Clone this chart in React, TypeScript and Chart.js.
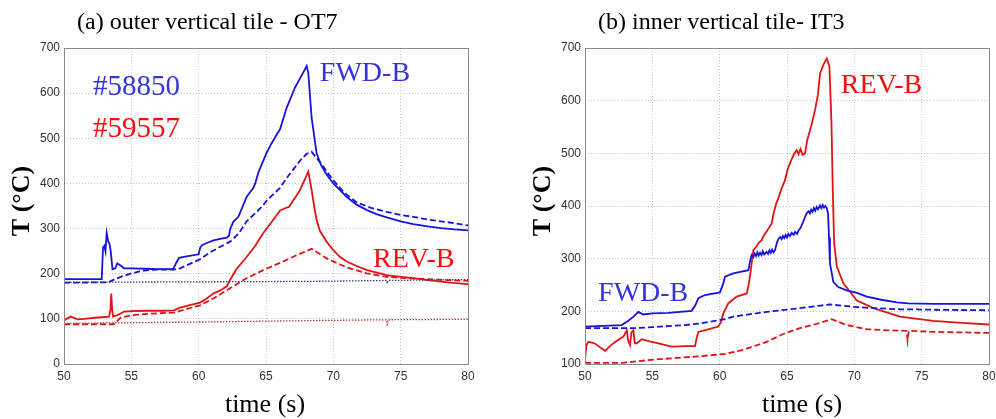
import { useEffect, useRef } from 'react';
import { Chart, registerables } from 'chart.js';

Chart.register(...registerables);

// ---------- Panel (a): outer vertical tile OT7 ----------
const aFwdSolidT = [50, 52.8, 52.9, 53.0, 53.08, 53.17, 53.28, 53.38, 53.47, 53.6, 53.8, 53.96, 54.2, 54.45, 55, 56, 57, 58.1, 58.3, 58.54, 59, 60.0, 60.12, 60.25, 60.6, 61.1, 61.6, 62.08, 62.25, 62.33, 62.57, 62.95, 63.56, 63.8, 64.06, 64.2, 64.43, 65.05, 65.4, 65.79, 66.04, 66.54, 67.15, 67.77, 68.02, 68.14, 68.39, 68.76, 69.1, 69.5, 70.0, 70.5, 71.0, 71.73, 72.5, 73.2, 73.96, 75, 75.94, 77, 78, 79, 80];
const aFwdSolidV = [188, 188, 258, 262, 250, 290, 272, 266, 250, 210, 212, 223, 218, 212, 212, 211, 210, 210, 222, 235, 238, 243, 258, 263, 268, 274, 277, 280, 284, 298, 315, 326, 370, 380, 390, 400, 424, 468, 488, 508, 520, 568, 612, 646, 660, 645, 545, 466, 440, 420, 400, 385, 370, 353, 341, 332, 325, 316, 310, 305, 301, 298, 296];

const aFwdDashT = [50, 53.3, 53.7, 54.3, 54.95, 55.6, 56.19, 57, 58.17, 58.61, 59.65, 60.1, 60.89, 61.5, 62.33, 63.0, 63.56, 64.2, 64.8, 65.05, 66.04, 66.54, 67.0, 67.52, 68.0, 68.39, 68.8, 69.26, 70.0, 70.8, 71.73, 72.8, 73.96, 75, 75.94, 77, 78.5, 80];
const aFwdDashV = [180, 181, 187, 194, 200, 205, 208, 209, 209, 212, 226, 232, 248, 258, 271, 290, 316, 334, 352, 362, 390, 412, 430, 450, 465, 470, 455, 437, 407, 380, 358, 346, 337, 330, 326, 320, 314, 307];

const aFwdDotT = [50, 60, 68, 73.95, 74.0, 74.05, 80];
const aFwdDotV = [181, 182, 183, 185, 178, 185, 187];

const aRevSolidT = [50, 50.5, 51.0, 51.5, 52.5, 53.34, 53.45, 53.51, 53.58, 53.64, 53.96, 54.45, 55, 56.19, 57.5, 58.17, 58.61, 59.41, 60.1, 60.6, 61.09, 61.6, 62.08, 62.33, 62.8, 63.56, 64.2, 64.8, 65.5, 66.04, 66.41, 66.7, 67.03, 67.52, 68.14, 68.39, 68.6, 68.76, 69.0, 69.5, 70.0, 70.5, 71.0, 71.73, 72.5, 73.96, 75, 75.94, 77, 78.5, 80];
const aRevSolidV = [97, 105, 99, 100, 103, 105, 120, 156, 120, 105, 108, 116, 117, 118, 118, 119, 125, 131, 136, 145, 156, 163, 172, 186, 210, 237, 262, 290, 318, 340, 345, 348, 363, 385, 426, 385, 345, 319, 295, 271, 252, 237, 227, 217, 208, 197, 193, 190, 186, 181, 177];

const aRevDashT = [50, 53.7, 54.2, 55, 56.19, 58.17, 60.1, 61.09, 62.33, 63.56, 64.8, 66.04, 67.28, 68.39, 69.5, 70.99, 72.48, 73.96, 75.5, 77, 78.5, 80];
const aRevDashV = [88, 88, 103, 108, 111, 114, 130, 145, 168, 190, 208, 224, 241, 255, 234, 214, 201, 193, 190, 188, 186, 184];

const aRevDotT = [50, 60, 68, 73.95, 74.0, 74.05, 80];
const aRevDotV = [90, 93, 96, 98, 84, 98, 99];

// ---------- Panel (b): inner vertical tile IT3 ----------
const bFwdSolidT = [50, 52.72, 53.22, 53.6, 53.96, 54.33, 55, 56.19, 57.92, 58.2, 58.42, 58.91, 60.02, 60.27, 60.4, 61.01, 62.13, 62.3, 62.38, 62.5, 62.6, 62.7, 62.8, 62.9, 63.0, 63.1, 63.2, 63.3, 63.49, 63.6, 63.7, 63.8, 63.9, 64.0, 64.11, 64.25, 64.35, 64.5, 64.6, 64.7, 64.8, 64.9, 65.0, 65.1, 65.22, 65.35, 65.5, 65.6, 65.75, 65.84, 66.0, 66.2, 66.35, 66.46, 66.6, 66.7, 66.8, 66.9, 67.0, 67.1, 67.2, 67.3, 67.45, 67.55, 67.65, 67.75, 67.85, 67.95, 68.05, 68.12, 68.19, 68.44, 68.8, 69.43, 70.2, 70.92, 72, 73.15, 74, 76, 78, 80];
const bFwdSolidV = [171, 174, 182, 190, 199, 194, 196, 197, 201, 212, 225, 231, 236, 253, 266, 272, 278, 300, 307, 303, 310, 305, 312, 306, 311, 307, 314, 308, 313, 309, 316, 311, 317, 312, 316, 330, 337, 341, 337, 343, 339, 345, 340, 347, 343, 349, 345, 351, 347, 353, 358, 370, 380, 386, 390, 386, 393, 389, 396, 391, 398, 394, 401, 396, 402, 397, 400, 396, 385, 340, 291, 256, 246, 240, 235, 228, 222, 217, 215, 214, 214, 214];

const bFwdDashT = [50, 53.71, 55, 57.43, 58.54, 60.4, 61.01, 63.49, 65.96, 67.5, 68.19, 69, 70.17, 71.5, 73.39, 76, 80];
const bFwdDashV = [168, 168, 170, 174, 177, 185, 190, 199, 206, 211, 213, 211, 208, 206, 204, 203, 202];

const bRevSolidT = [50, 50.1, 50.25, 50.74, 51.1, 51.49, 51.9, 52.23, 52.85, 53.1, 53.2, 53.34, 53.45, 53.59, 53.7, 53.84, 54.21, 54.8, 55.45, 56.44, 57.5, 58.17, 58.3, 58.42, 59.2, 59.9, 60.1, 60.27, 60.64, 61.26, 62.01, 62.15, 62.25, 62.5, 62.7, 62.9, 63.12, 63.3, 63.5, 63.7, 63.86, 64.0, 64.2, 64.35, 64.55, 64.85, 65.05, 65.22, 65.4, 65.55, 65.72, 65.85, 66.0, 66.15, 66.34, 66.5, 66.8, 67.08, 67.3, 67.45, 67.7, 67.95, 68.15, 68.3, 68.4, 68.5, 68.7, 69.19, 70.17, 71.41, 73.39, 75.86, 78, 80];
const bRevSolidV = [108, 135, 142, 139, 132, 125, 135, 142, 152, 164, 145, 136, 160, 164, 140, 139, 147, 143, 139, 133, 134, 134, 150, 161, 166, 171, 180, 196, 215, 228, 234, 250, 266, 316, 322, 330, 335, 345, 352, 360, 367, 385, 405, 414, 430, 449, 470, 481, 492, 500, 506, 498, 508, 497, 500, 525, 552, 582, 612, 651, 668, 680, 665, 560, 430, 330, 285, 253, 221, 206, 190, 182, 178, 175];

const bRevDashT = [50, 52.72, 54.95, 58.17, 60.4, 61.75, 63.49, 64.72, 65.96, 67.2, 68.32, 69.43, 70.92, 72.5, 73.89, 73.95, 74.0, 74.05, 76, 80];
const bRevDashV = [102, 102, 108, 114, 119, 127, 142, 157, 168, 176, 185, 174, 166, 164, 163, 145, 155, 163, 161, 159];

// ---------- ticks ----------
const xTicks = [50, 55, 60, 65, 70, 75, 80];
const aYTicks = [0, 100, 200, 300, 400, 500, 600, 700];
const bYTicks = [100, 200, 300, 400, 500, 600, 700];

const BLUE = '#1414dc';
const RED = '#e01414';
const BLUE_DOT = '#3a3a8c';
const RED_DOT = '#b04040';
const BLUE_TXT = '#3434dc';
const RED_TXT = '#ff0a0a';
const SERIF = '"Liberation Serif", "Times New Roman", serif';

function zip(t: number[], v: number[]) {
  return t.map((x, i) => ({ x, y: v[i] }));
}

function ds(t: number[], v: number[], color: string, kind: 'solid' | 'dashed' | 'dotted') {
  return {
    data: zip(t, v),
    borderColor: color,
    borderWidth: kind === 'dotted' ? 1.3 : 1.8,
    borderDash: kind === 'dashed' ? [6, 3] : kind === 'dotted' ? [1.5, 1.5] : [],
    pointRadius: 0,
    tension: 0,
    fill: false,
  };
}

type Lbl = { text: string; t: number; v: number; color: string; size: number };

function decor(title: string, titleX: number, yLabelX: number, xLabelX: number, labels: Lbl[]) {
  return {
    id: 'decor',
    afterDraw(chart: any) {
      const { ctx, chartArea: a, scales } = chart;
      ctx.save();
      ctx.strokeStyle = '#8a8a8a';
      ctx.lineWidth = 1;
      ctx.setLineDash([]);
      ctx.strokeRect(a.left + 0.5, a.top + 0.5, a.right - a.left, a.bottom - a.top);
      ctx.fillStyle = '#000';
      ctx.textAlign = 'left';
      ctx.textBaseline = 'alphabetic';
      ctx.font = `24px ${SERIF}`;
      ctx.fillText(title, titleX, 28.5);
      ctx.textAlign = 'center';
      ctx.font = `26px ${SERIF}`;
      ctx.fillText('time (s)', xLabelX, 412);
      ctx.save();
      ctx.translate(yLabelX, 201);
      ctx.rotate(-Math.PI / 2);
      ctx.font = `bold 26px ${SERIF}`;
      ctx.textBaseline = 'middle';
      ctx.fillText('T (°C)', 0, 0);
      ctx.restore();
      ctx.textAlign = 'left';
      ctx.textBaseline = 'alphabetic';
      for (const l of labels) {
        ctx.fillStyle = l.color;
        ctx.font = `${l.size}px ${SERIF}`;
        ctx.fillText(l.text, scales.x.getPixelForValue(l.t), scales.y.getPixelForValue(l.v));
      }
      ctx.restore();
    },
  };
}

function scaleOpts(yTicks: number[], yWidth: number) {
  const tickFont = { family: '"Liberation Sans", Arial, sans-serif', size: 12 };
  return {
    x: {
      type: 'linear' as const,
      min: xTicks[0],
      max: xTicks[xTicks.length - 1],
      afterBuildTicks: (s: any) => { s.ticks = xTicks.map((value) => ({ value })); },
      afterFit: (s: any) => { s.height = 55; s.paddingLeft = 0; s.paddingRight = 0; },
      ticks: { padding: 5, color: '#333', font: tickFont, maxRotation: 0, autoSkip: false },
      grid: { color: '#c4c4c4', lineWidth: 1, drawTicks: false, borderDash: [1, 2] },
      border: { display: false, dash: [1, 2] },
    },
    y: {
      type: 'linear' as const,
      min: yTicks[0],
      max: yTicks[yTicks.length - 1],
      afterBuildTicks: (s: any) => { s.ticks = yTicks.map((value) => ({ value })); },
      afterFit: (s: any) => { s.width = yWidth; s.paddingTop = 0; s.paddingBottom = 0; },
      ticks: { padding: 4, color: '#333', font: tickFont, autoSkip: false },
      grid: { color: '#c4c4c4', lineWidth: 1, drawTicks: false, borderDash: [1, 2] },
      border: { display: false, dash: [1, 2] },
    },
  };
}

function configA(): any {
  return {
    type: 'line',
    data: {
      datasets: [
        ds(aFwdDotT, aFwdDotV, BLUE_DOT, 'dotted'),
        ds(aRevDotT, aRevDotV, RED_DOT, 'dotted'),
        ds(aFwdDashT, aFwdDashV, BLUE, 'dashed'),
        ds(aRevDashT, aRevDashV, RED, 'dashed'),
        ds(aRevSolidT, aRevSolidV, RED, 'solid'),
        ds(aFwdSolidT, aFwdSolidV, BLUE, 'solid'),
      ],
    },
    options: {
      responsive: false,
      animation: false,
      devicePixelRatio: 1,
      layout: { padding: { left: 0, top: 48, right: 30, bottom: 0 } },
      scales: scaleOpts(aYTicks, 64),
      plugins: { legend: { display: false }, tooltip: { enabled: false }, title: { display: false } },
    },
    plugins: [
      decor('(a) outer vertical tile - OT7', 77, 22, 265, [
        { text: '#58850', t: 52.15, v: 595, color: BLUE_TXT, size: 29 },
        { text: '#59557', t: 52.15, v: 502, color: RED_TXT, size: 29 },
        { text: 'FWD-B', t: 69.0, v: 628, color: BLUE_TXT, size: 28 },
        { text: 'REV-B', t: 72.95, v: 215, color: RED_TXT, size: 28 },
      ]),
    ],
  };
}

function configB(): any {
  return {
    type: 'line',
    data: {
      datasets: [
        ds(bRevDashT, bRevDashV, RED, 'dashed'),
        ds(bFwdDashT, bFwdDashV, BLUE, 'dashed'),
        ds(bFwdSolidT, bFwdSolidV, BLUE, 'solid'),
        ds(bRevSolidT, bRevSolidV, RED, 'solid'),
      ],
    },
    options: {
      responsive: false,
      animation: false,
      devicePixelRatio: 1,
      layout: { padding: { left: 0, top: 48, right: 7, bottom: 0 } },
      scales: scaleOpts(bYTicks, 87),
      plugins: { legend: { display: false }, tooltip: { enabled: false }, title: { display: false } },
    },
    plugins: [
      decor('(b) inner vertical tile- IT3', 100, 45, 304, [
        { text: 'REV-B', t: 69.0, v: 614, color: RED_TXT, size: 28 },
        { text: 'FWD-B', t: 50.97, v: 219.5, color: BLUE_TXT, size: 28 },
      ]),
    ],
  };
}

export default function App() {
  const refA = useRef<HTMLCanvasElement>(null);
  const refB = useRef<HTMLCanvasElement>(null);
  useEffect(() => {
    const ca = new Chart(refA.current!, configA());
    const cb = new Chart(refB.current!, configB());
    return () => {
      ca.destroy();
      cb.destroy();
    };
  }, []);
  return (
    <div style={{ position: 'fixed', left: 0, top: 0, width: 996, height: 419, background: '#fff' }}>
      <canvas ref={refA} width={498} height={419} style={{ position: 'absolute', left: 0, top: 0, width: 498, height: 419 }} />
      <canvas ref={refB} width={498} height={419} style={{ position: 'absolute', left: 498, top: 0, width: 498, height: 419 }} />
    </div>
  );
}
